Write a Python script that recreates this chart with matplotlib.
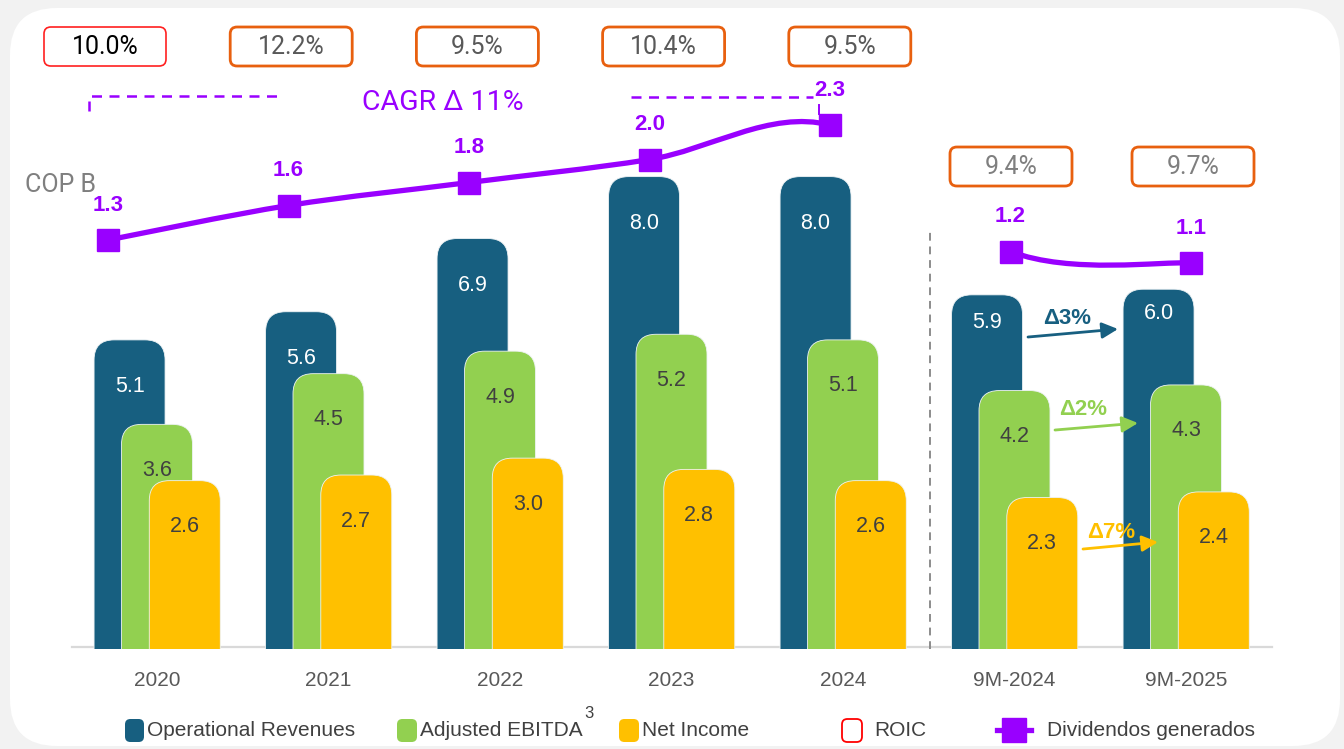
import matplotlib.pyplot as plt
from matplotlib.patches import FancyBboxPatch, PathPatch
from matplotlib.path import Path
from matplotlib.lines import Line2D

plt.rcParams['font.family'] = ['Liberation Sans', 'DejaVu Sans']

# data
periods = ['2020', '2021', '2022', '2023', '2024', '9M-2024', '9M-2025']
revenues = [5.1, 5.6, 6.9, 8.0, 8.0, 5.9, 6.0]
ebitda = [3.6, 4.5, 4.9, 5.2, 5.1, 4.2, 4.3]
net_income = [2.6, 2.7, 3.0, 2.8, 2.6, 2.3, 2.4]
dividends = [1.3, 1.6, 1.8, 2.0, 2.3, 1.2, 1.1]
roic = ['10.0%', '12.2%', '9.5%', '10.4%', '9.5%', '9.4%', '9.7%']
growth = ['Δ3%', 'Δ2%', 'Δ7%']

BLUE = '#175f80'
GREEN = '#92d050'
YELLOW = '#ffc000'
PURPLE = '#9900ff'
ORANGE = '#e8600f'
TXT = '#404040'

W, H = 1344, 749
fig = plt.figure(figsize=(W / 100, H / 100), dpi=100)
fig.patch.set_facecolor('#f2f2f2')

def fx(px):
    return px / W

def fy(py):
    return 1 - py / H

# white card
card = FancyBboxPatch((fx(10), fy(746)), fx(1330), 738 / H,
                      boxstyle='round,pad=0,rounding_size=0.035',
                      mutation_aspect=W / H, transform=fig.transFigure,
                      fc='white', ec='none', zorder=-5)
fig.patches.append(card)

# layout: pixel scales of the original
X0, XS = 157, 171.5      # group 0 centre, px per group
Y0, YS = 627, 56.3       # px of value 0, px per unit
BASE = -0.39

def dx(px):
    return (px - X0) / XS

def dy(py):
    return (Y0 - py) / YS

ax = fig.add_axes([0, 100 / H, 1, 649 / H])
ax.set_xlim(dx(0), dx(W))
ax.set_ylim(BASE, dy(0))
ax.patch.set_visible(False)
for s in ax.spines.values():
    s.set_visible(False)
ax.set_yticks([])
ax.set_xticks(range(len(periods)), periods)
ax.tick_params(axis='x', length=0, pad=15.5, labelsize=15, labelcolor='#595959')

aspect = XS / YS
width = 0.414
series = [(revenues, BLUE, -0.16, 'white'),
          (ebitda, GREEN, 0.0, TXT),
          (net_income, YELLOW, 0.162, TXT)]
rev_drop = [47, 47, 47, 47, 47, 28, 24]
for k, (vals, col, off, tcol) in enumerate(series):
    for i, v in enumerate(vals):
        p = FancyBboxPatch((i + off - width / 2, -3), width, v + 3,
                           boxstyle='round,pad=0,rounding_size=0.117',
                           mutation_aspect=aspect, fc=col, ec='#eef3f5',
                           lw=0.6, zorder=2 + k)
        ax.add_patch(p)
        drop = rev_drop[i] if k == 0 else 46
        ax.annotate(f'{v:.1f}', (i + off, v), xytext=(0, -drop * 0.72),
                    textcoords='offset points', ha='center', va='center',
                    fontsize=15.5, color=tcol, zorder=10)

# baseline and separator
ax.plot([dx(72), dx(1272)], [dy(647)] * 2, color='#d9d9d9', lw=1.6, zorder=1)
ax.plot([dx(930)] * 2, [BASE, dy(230)], color='#8c8c8c', lw=1.4,
        ls=(0, (4, 3)), zorder=1)

# ROIC boxes
roic_x = [dx(105 + 186.2 * i) for i in range(5)] + [dx(1011), dx(1193)]
roic_y = [dy(46.5)] * 5 + [dy(166.5)] * 2
bw, bh = 122 / XS, 39 / YS
for i, t in enumerate(roic):
    ec = '#ff2020' if i == 0 else ORANGE
    tc = 'black' if i == 0 else ('#595959' if i < 5 else '#7f7f7f')
    b = FancyBboxPatch((roic_x[i] - bw / 2, roic_y[i] - bh / 2), bw, bh,
                       boxstyle='round,pad=0,rounding_size=0.04',
                       mutation_aspect=aspect, fc='white', ec=ec,
                       lw=1.2 if i == 0 else 2.0, zorder=4)
    ax.add_patch(b)
    ax.text(roic_x[i], roic_y[i], t, ha='center', va='center', fontsize=18,
            family='Roboto', color=tc, zorder=5)

# growth arrows
arrows = [((1028, 337), (1118, 329), (1067, 318), BLUE),
          ((1055, 430), (1138, 423), (1083, 409), GREEN),
          ((1083, 549), (1158, 542), (1111, 532), YELLOW)]
for g, (a, b, t, c) in zip(growth, arrows):
    ax.annotate('', xy=(dx(b[0]), dy(b[1])), xytext=(dx(a[0]), dy(a[1])),
                arrowprops=dict(arrowstyle='-|>', color=c, lw=2,
                                mutation_scale=24, shrinkA=0, shrinkB=0),
                zorder=6)
    ax.text(dx(t[0]), dy(t[1]), g, ha='center', va='center', fontsize=16,
            fontweight='bold', color=c, zorder=6)

# CAGR annotation
ax.plot([dx(89), dx(89), dx(277)], [dy(111), dy(96), dy(96)], color=PURPLE,
        lw=1.8, ls=(0, (4, 3)), zorder=4)
ax.plot([dx(631), dx(813)], [dy(97)] * 2, color=PURPLE, lw=1.8,
        ls=(0, (4, 3)), zorder=4)
ax.plot([dx(819)] * 2, [dy(105), dy(114)], color=PURPLE, lw=1.4, zorder=4)
ax.text(dx(443), dy(102), 'CAGR Δ 11%', ha='center', va='center', fontsize=20.5,
        family='Roboto', color=PURPLE)
ax.text(dx(25), dy(185), 'COP B', ha='left', va='center', fontsize=18,
        family='Roboto', color='#7f7f7f')

# dividends on secondary axis
ax2 = ax.twinx()
ax2.set_ylim(1.3 - (649 - 240) / 115, 1.3 + 240 / 115)
ax2.axis('off')
line_x = [-0.2857 + 1.0525 * i for i in range(len(dividends))]
pts = list(zip(line_x, dividends))
verts, codes = [], []
n = len(pts)
for a_, b_ in [(0, 1), (1, 2), (2, 3), (3, 4), (5, 6)]:
    pa, pb = pts[a_], pts[b_]
    pp, pn = pts[max(a_ - 1, 0)], pts[min(b_ + 1, n - 1)]
    c1 = (pa[0] + (pb[0] - pp[0]) / 6, pa[1] + (pb[1] - pp[1]) / 6)
    c2 = (pb[0] - (pn[0] - pa[0]) / 6, pb[1] - (pn[1] - pa[1]) / 6)
    verts += [pa, c1, c2, pb]
    codes += [Path.MOVETO, Path.CURVE4, Path.CURVE4, Path.CURVE4]
ax2.add_patch(PathPatch(Path(verts, codes), fill=False, ec=PURPLE, lw=3.8,
                        capstyle='round', zorder=3))
ax2.plot(line_x, dividends, ls='none', marker='s', ms=16, color=PURPLE, zorder=4)
for x, v in zip(line_x, dividends):
    ax2.annotate(f'{v:.1f}', (x, v), xytext=(0, 25), textcoords='offset points',
                 ha='center', va='center', fontsize=16, fontweight='bold',
                 color=PURPLE)

# legend
def leg_box(x0, x1, fc, ec='none', lw=0):
    p = FancyBboxPatch((fx(x0), fy(742)), fx(x1 - x0), 23 / H,
                       boxstyle='round,pad=0,rounding_size=0.004',
                       mutation_aspect=W / H, transform=fig.transFigure,
                       fc=fc, ec=ec, lw=lw)
    fig.patches.append(p)

ly = fy(730)
leg_box(125, 144, BLUE)
fig.text(fx(147), ly, 'Operational Revenues', va='center', fontsize=15, color=TXT)
leg_box(397, 417, GREEN)
fig.text(fx(420), ly, 'Adjusted EBITDA', va='center', fontsize=15, color=TXT)
fig.text(fx(584), fy(713), '3', va='center', fontsize=12, color=TXT)
leg_box(619, 639, YELLOW)
fig.text(fx(642), ly, 'Net Income', va='center', fontsize=15, color=TXT)
leg_box(842, 862, 'white', ec='#ff0000', lw=1.3)
fig.text(fx(874), ly, 'ROIC', va='center', fontsize=15, color=TXT)
fig.add_artist(Line2D([fx(997), fx(1031)], [ly, ly], color=PURPLE, lw=3.8,
                      transform=fig.transFigure))
fig.add_artist(Line2D([fx(1014)], [ly], marker='s', ms=17, color=PURPLE,
                      transform=fig.transFigure))
fig.text(fx(1047), ly, 'Dividendos generados', va='center', fontsize=15, color=TXT)

fig.savefig('out.png', dpi=100, facecolor=fig.get_facecolor())
